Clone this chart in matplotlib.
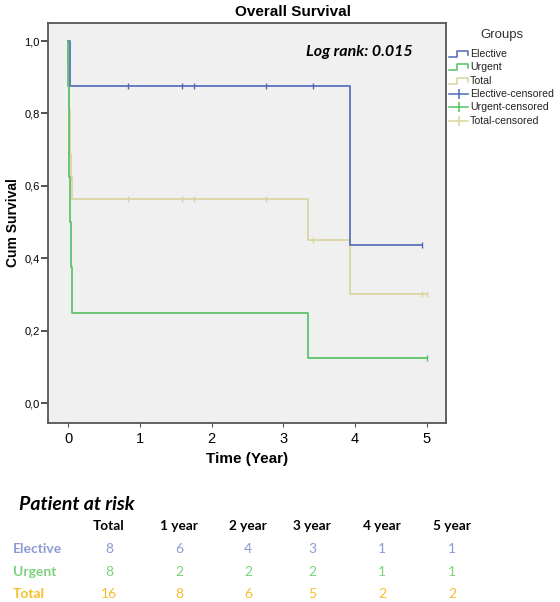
import numpy as np
import matplotlib.pyplot as plt
from matplotlib.lines import Line2D

# --- Kaplan-Meier steps ---
elective_t = [0.0, 0.02, 3.93, 4.93]
elective_s = [1.0, 0.875, 0.4375, 0.4375]
elective_cens_t = [0.83, 1.59, 1.75, 2.76, 3.42, 4.93]
elective_cens_s = [0.875, 0.875, 0.875, 0.875, 0.875, 0.4375]

urgent_t = [0.0, 0.005, 0.01, 0.015, 0.02, 0.035, 0.055, 3.35, 5.0]
urgent_s = [1.0, 0.875, 0.75, 0.625, 0.5, 0.375, 0.25, 0.125, 0.125]
urgent_cens_t = [5.0]
urgent_cens_s = [0.125]

total_t = [0.0, 0.005, 0.01, 0.015, 0.02, 0.025, 0.035, 0.055, 3.35, 3.93, 5.0]
total_s = [1.0, 0.9375, 0.875, 0.8125, 0.75, 0.6875, 0.625, 0.5625, 0.45, 0.30, 0.30]
total_cens_t = [0.83, 1.59, 1.75, 2.76, 3.42, 4.93, 5.0]
total_cens_s = [0.5625, 0.5625, 0.5625, 0.5625, 0.45, 0.30, 0.30]

# --- at-risk table ---
risk_cols = ['Total', '1 year', '2 year', '3 year', '4 year', '5 year']
risk_groups = ['Elective', 'Urgent', 'Total']
risk_elective = [8, 6, 4, 3, 1, 1]
risk_urgent = [8, 2, 2, 2, 1, 1]
risk_total = [16, 8, 6, 5, 2, 2]

c_el = '#5068b8'
c_ur = '#52c160'
c_to = '#d8d49e'
tab_colors = ['#8d9bd6', '#7fd17f', '#f5bf2c']

plt.rcParams['font.family'] = ['Liberation Sans', 'DejaVu Sans']

W, H = 560, 602
fig = plt.figure(figsize=(W / 100, H / 100), dpi=100)
ax = fig.add_axes([48 / W, 1 - 423 / H, (446 - 48) / W, (423 - 23) / H])
ax.set_facecolor('#f0f0f0')

for t, s, c in [(total_t, total_s, c_to), (elective_t, elective_s, c_el), (urgent_t, urgent_s, c_ur)]:
    ax.step(t, s, where='post', color=c, lw=1.2)
for t, s, c in [(total_cens_t, total_cens_s, c_to), (elective_cens_t, elective_cens_s, c_el),
                (urgent_cens_t, urgent_cens_s, c_ur)]:
    ax.plot(t, s, ls='none', marker='|', ms=5, mew=1.0, color=c)

ax.set_xlim(-0.28, 5.27)
ax.set_ylim(-0.055, 1.05)
ax.set_xticks(range(6))
ax.set_yticks([0, 0.2, 0.4, 0.6, 0.8, 1.0])
ax.set_yticklabels(['0,0', '0,2', '0,4', '0,6', '0,8', '1,0'], fontsize=8)
ax.tick_params(axis='x', labelsize=10.5, length=3, color='#555555')
ax.tick_params(axis='y', length=5, width=1.2, color='#333333', pad=1)
for sp in ax.spines.values():
    sp.set_color('#555555')
    sp.set_linewidth(1.3)
ax.set_xlabel('Time (Year)', fontsize=11, fontweight='bold', labelpad=4)
ax.set_ylabel('Cum Survival', fontsize=10, fontweight='bold')
ax.yaxis.set_label_coords(-(48 - 20) / 398, 0.5)

fig.text(293 / W, 1 - 12 / H, 'Overall Survival', ha='center', va='center', fontsize=11, fontweight='bold')
ax.text(0.915, (423 - 52) / 400, 'Log rank: 0.015', transform=ax.transAxes, ha='right', va='center',
        fontsize=11.5, fontweight='bold', style='italic', family=['Lato', 'DejaVu Sans'])

# --- legend drawn by hand, SPSS style ---
fig.text(502 / W, 1 - 35 / H, 'Groups', ha='center', va='center', fontsize=9.5, color='#333333')
leg_labels = ['Elective', 'Urgent', 'Total', 'Elective-censored', 'Urgent-censored', 'Total-censored']
leg_colors = [c_el, c_ur, c_to, c_el, c_ur, c_to]
for i, (lab, col) in enumerate(zip(leg_labels, leg_colors)):
    yc = 54 + i * 13.3
    if i < 3:
        xs = np.array([449, 457, 457, 468, 468])
        ys = np.array([yc + 3, yc + 3, yc - 3, yc - 3, yc + 1])
    else:
        xs = np.array([449, 468])
        ys = np.array([yc, yc])
    fig.add_artist(Line2D(xs / W, 1 - ys / H, color=col, lw=1.1, transform=fig.transFigure))
    if i >= 3:
        fig.add_artist(Line2D([458.5 / W], [1 - yc / H], marker='|', ms=7, mew=1.1, color=col,
                              transform=fig.transFigure))
    fig.text(470 / W, 1 - yc / H, lab, ha='left', va='center', fontsize=7.6, color='#222222')

# --- patients at risk ---
tfont = ['Lato', 'DejaVu Sans']
fig.text(19 / W, 1 - 504 / H, 'Patient at risk', ha='left', va='center', fontsize=14,
         fontweight='bold', style='italic', family=tfont)
col_x = [109, 179, 248, 312, 382, 452]
for x, lab in zip(col_x, risk_cols):
    fig.text(x / W, 1 - 526 / H, lab, ha='center', va='center', fontsize=9.8, fontweight='bold', family=tfont)
for j, (g, vals) in enumerate(zip(risk_groups, [risk_elective, risk_urgent, risk_total])):
    y = 549 + j * 22.5
    fig.text(13 / W, 1 - y / H, g, ha='left', va='center', fontsize=10, fontweight='bold',
             color=tab_colors[j], family=tfont)
    for x, v in zip(col_x, vals):
        fig.text(x / W, 1 - y / H, str(v), ha='center', va='center', fontsize=10,
                 color=tab_colors[j], family=tfont)

fig.savefig('out.png', dpi=100, facecolor='white')
